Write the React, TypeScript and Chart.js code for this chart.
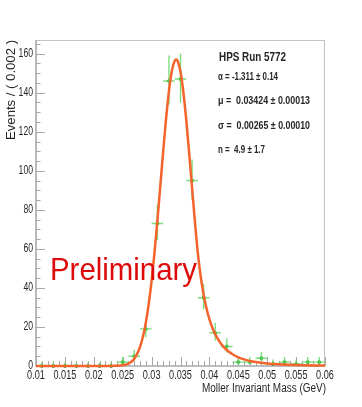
import React, { useEffect, useRef } from "react";
import { Chart, registerables } from "chart.js";

Chart.register(...registerables);

// Histogram bins (centres, GeV), counts and asymmetric Poisson errors
const binCenters = [
  0.011, 0.013, 0.015, 0.017, 0.019, 0.021, 0.023, 0.025, 0.027, 0.029, 0.031, 0.033, 0.035,
  0.037, 0.039, 0.041, 0.043, 0.045, 0.047, 0.049, 0.051, 0.053, 0.055, 0.057, 0.059,
];
const counts = [0, 0, 0, 0, 0, 0, 0, 2, 5, 19, 73, 146, 147, 95, 35, 17, 10, 2, 2, 4, 1, 2, 1, 2, 2];
const errLow = [0, 0, 0, 0, 0, 0, 0, 1.29, 2.16, 4.33, 8.5, 12.0, 12.1, 9.7, 5.89, 4.12, 3.11, 1.29, 1.29, 1.91, 0.83, 1.29, 0.83, 1.29, 1.29];
const errHigh = [1.84, 1.84, 1.84, 1.84, 1.84, 1.84, 1.84, 2.64, 3.38, 5.43, 9.6, 13.1, 13.1, 10.8, 6.97, 5.2, 4.26, 2.64, 2.64, 3.16, 2.3, 2.64, 2.3, 2.64, 2.64];
const binHalfWidth = 0.001;

// Fitted curve samples
const curveX = [
  0.01, 0.02, 0.022, 0.024, 0.025, 0.026, 0.0265, 0.027, 0.0275, 0.028, 0.0285, 0.029, 0.0295,
  0.03, 0.0305, 0.031, 0.0315, 0.032, 0.0325, 0.033, 0.0335, 0.034, 0.03424, 0.0345, 0.035,
  0.0355, 0.036, 0.0365, 0.037, 0.0375, 0.03772, 0.038, 0.0385, 0.039, 0.0395, 0.04, 0.0405,
  0.041, 0.042, 0.043, 0.044, 0.045, 0.046, 0.047, 0.048, 0.05, 0.052, 0.055, 0.06,
];
const curveY = [
  0, 0, 0.004, 0.09, 0.36, 1.25, 2.2, 3.76, 6.19, 9.82, 15.0, 22.2, 31.7,
  43.6, 58.0, 74.4, 92.0, 109.8, 126.6, 140.7, 151.0, 156.4, 157, 156.2, 150.7,
  140.2, 125.9, 109.1, 91.3, 73.7, 66.5, 57.8, 45.7, 36.6, 29.5, 24.0, 19.7,
  16.3, 11.4, 8.18, 5.99, 4.46, 3.38, 2.6, 2.03, 1.28, 0.84, 0.47, 0.21,
];

const xTicks = [0.01, 0.015, 0.02, 0.025, 0.03, 0.035, 0.04, 0.045, 0.05, 0.055, 0.06];
const xTickLabels = ["0.01", "0.015", "0.02", "0.025", "0.03", "0.035", "0.04", "0.045", "0.05", "0.055", "0.06"];
const yTicks = [0, 20, 40, 60, 80, 100, 120, 140, 160];
const yTickLabels = ["0", "20", "40", "60", "80", "100", "120", "140", "160"];

const xTitle = "Moller Invariant Mass (GeV)";
const yTitle = "Events / ( 0.002 )";
const statTitle = "HPS Run 5772";
const statLines = ["\u03b1 = -1.311 \u00b1 0.14", "\u03bc =  0.03424 \u00b1 0.00013", "\u03c3 =  0.00265 \u00b1 0.00010", "n =  4.9 \u00b1 1.7"];
const watermark = "Preliminary";

const FONT = "'Liberation Sans', Arial, sans-serif";
const GREEN = "rgba(90,215,90,0.8)";
const ORANGE = "#f4642c";
const AXIS = "#a8a8a8";
const TEXT = "#262626";

function drawText(
  ctx: CanvasRenderingContext2D,
  text: string,
  x: number,
  y: number,
  font: string,
  color: string,
  align: CanvasTextAlign,
  opts: { width?: number; scaleX?: number; rotate?: number } = {}
) {
  ctx.save();
  ctx.font = font;
  ctx.fillStyle = color;
  ctx.textBaseline = "middle";
  ctx.textAlign = align;
  const w = ctx.measureText(text).width;
  const s = opts.width ? opts.width / w : opts.scaleX ?? 1;
  ctx.translate(x, y);
  if (opts.rotate) ctx.rotate(opts.rotate);
  ctx.scale(s, 1);
  ctx.fillText(text, 0, 0);
  ctx.restore();
}

const errorBarPlugin = {
  id: "errorBars",
  afterDatasetDraw(chart: any, args: any) {
    if (args.index !== 1) return;
    const ctx = chart.ctx as CanvasRenderingContext2D;
    const xs = chart.scales.x;
    const ys = chart.scales.y;
    ctx.save();
    ctx.strokeStyle = GREEN;
    ctx.lineWidth = 1.4;
    for (let i = 0; i < binCenters.length; i++) {
      const cx = xs.getPixelForValue(binCenters[i]);
      const cy = ys.getPixelForValue(counts[i]);
      const x0 = xs.getPixelForValue(binCenters[i] - binHalfWidth);
      const x1 = xs.getPixelForValue(binCenters[i] + binHalfWidth);
      const yl = ys.getPixelForValue(counts[i] - errLow[i]);
      const yh = ys.getPixelForValue(counts[i] + errHigh[i]);
      ctx.beginPath();
      ctx.moveTo(x0, cy);
      ctx.lineTo(x1, cy);
      ctx.moveTo(cx, yl);
      ctx.lineTo(cx, yh);
      ctx.stroke();
    }
    ctx.restore();
  },
};

const framePlugin = {
  id: "rootFrame",
  beforeDatasetsDraw(chart: any) {
    const ctx = chart.ctx as CanvasRenderingContext2D;
    const { left, right, top, bottom } = chart.chartArea;
    const xs = chart.scales.x;
    const ys = chart.scales.y;
    ctx.save();
    ctx.strokeStyle = AXIS;
    ctx.lineWidth = 1;
    for (let k = 10; k <= 60; k++) {
      const v = k / 1000;
      const px = Math.round(xs.getPixelForValue(v)) + 0.5;
      const len = k % 5 === 0 ? 9 : 5;
      ctx.beginPath();
      ctx.moveTo(px, bottom);
      ctx.lineTo(px, bottom - len);
      ctx.stroke();
    }
    for (let v = 0; v <= 165; v += 5) {
      const py = Math.round(ys.getPixelForValue(v)) + 0.5;
      const len = v % 20 === 0 ? 9 : 4.5;
      ctx.beginPath();
      ctx.moveTo(left, py);
      ctx.lineTo(left + len, py);
      ctx.stroke();
    }
    ctx.lineWidth = 1;
    ctx.strokeStyle = "#c4c4c4";
    ctx.beginPath();
    ctx.moveTo(left, top + 0.5);
    ctx.lineTo(right, top + 0.5);
    ctx.moveTo(right - 0.5, top);
    ctx.lineTo(right - 0.5, bottom);
    ctx.stroke();
    ctx.lineWidth = 1.6;
    ctx.strokeStyle = AXIS;
    ctx.beginPath();
    ctx.moveTo(left, top);
    ctx.lineTo(left, bottom);
    ctx.lineTo(right, bottom);
    ctx.stroke();
    ctx.restore();
  },
  afterDraw(chart: any) {
    const ctx = chart.ctx as CanvasRenderingContext2D;
    const { left, right, top, bottom } = chart.chartArea;
    const xs = chart.scales.x;
    const ys = chart.scales.y;
    xTicks.forEach((v, i) => {
      drawText(ctx, xTickLabels[i], xs.getPixelForValue(v), bottom + 10, `12px ${FONT}`, TEXT, "center", { scaleX: 0.76 });
    });
    yTicks.forEach((v, i) => {
      drawText(ctx, yTickLabels[i], left - 3, ys.getPixelForValue(v), `12px ${FONT}`, TEXT, "right", { scaleX: 0.72 });
    });
    drawText(ctx, xTitle, right + 1, bottom + 23, `12px ${FONT}`, TEXT, "right", { width: 124 });
    drawText(ctx, yTitle, 12, top, `12px ${FONT}`, TEXT, "right", { width: 100, rotate: -Math.PI / 2 });
    drawText(ctx, statTitle, 219, 58, `bold 12px ${FONT}`, TEXT, "left", { width: 67 });
    const widths = [60, 92, 92, 47];
    const ys2 = [77, 101, 126, 150];
    statLines.forEach((s, i) => {
      drawText(ctx, s, 218, ys2[i], `bold 10px ${FONT}`, TEXT, "left", { width: widths[i] });
    });
    drawText(ctx, watermark, 50, 271, `32px ${FONT}`, "#dd0a0a", "left", { width: 147 });
  },
};

export default function App() {
  const canvasRef = useRef<HTMLCanvasElement | null>(null);
  useEffect(() => {
    if (!canvasRef.current) return;
    const chart = new Chart(canvasRef.current, {
      type: "scatter",
      data: {
        datasets: [
          {
            type: "line",
            data: curveX.map((x, i) => ({ x, y: curveY[i] })),
            borderColor: ORANGE,
            borderWidth: 2.5,
            pointRadius: 0,
            cubicInterpolationMode: "monotone",
            fill: false,
            clip: 6,
            order: 0,
          } as any,
          {
            type: "scatter",
            data: binCenters.map((x, i) => ({ x, y: counts[i] })),
            backgroundColor: "rgba(40,160,40,0.9)",
            borderColor: "rgba(40,160,40,0.9)",
            pointRadius: 1.5,
            clip: 6,
            order: 1,
          } as any,
        ],
      },
      options: {
        responsive: false,
        animation: false,
        devicePixelRatio: 1,
        layout: { padding: { left: 36, top: 40, right: 37, bottom: 41 } },
        plugins: { legend: { display: false }, tooltip: { enabled: false } },
        scales: {
          x: { type: "linear", min: 0.01, max: 0.06, display: false },
          y: { type: "linear", min: 0, max: 167, display: false },
        },
      },
      plugins: [framePlugin, errorBarPlugin],
    });
    return () => chart.destroy();
  }, []);
  return (
    <div style={{ position: "fixed", left: 0, top: 0, width: 362, height: 407, background: "#fff" }}>
      <canvas ref={canvasRef} width={362} height={407} style={{ display: "block" }} />
    </div>
  );
}
